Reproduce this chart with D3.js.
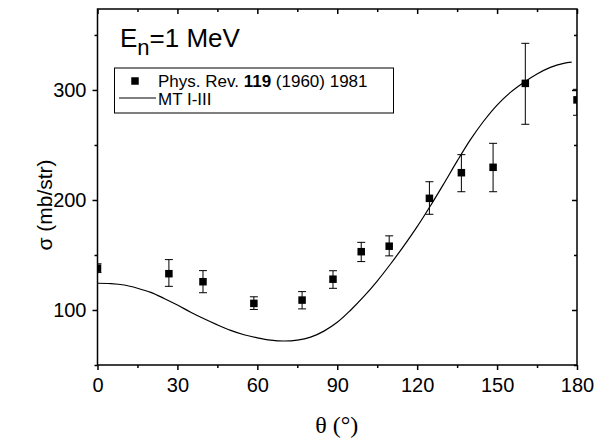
<!DOCTYPE html>
<html>
<head>
<meta charset="utf-8">
<script src="https://cdn.jsdelivr.net/npm/d3@7"></script>
<style>
  body { margin: 0; background: #fff; }
  svg { display: block; }
  .tick text { font-family: "Liberation Sans", Arial, sans-serif; }
</style>
</head>
<body>
<svg id="chart" width="600" height="442"></svg>
<script>
// measured points, Phys. Rev. 119 (1960) 1981
const angles = [0, 26.8, 39.6, 58.7, 76.8, 88.4, 99, 109.5, 124.6, 136.6, 148.5, 160.6, 180];
const sigma = [138, 133, 125.7, 106, 109, 128, 153, 158, 201.5, 224.8, 229.7, 306, 291];
const errHigh = [142, 145.8, 135.8, 112, 116.7, 135.7, 161.5, 167.4, 216.6, 241.2, 251.5, 342.4, 300.6];
const errLow = [134, 121.5, 115.7, 100.5, 101, 119.7, 144, 149.2, 187, 207.5, 207.5, 268.8, 277];

// MT I-III calculation
const curveAngles = [0, 5, 10, 15, 20, 25, 30, 35, 40, 45, 50, 55, 60, 65, 70, 75, 80, 85, 90, 95, 100, 105, 110, 115, 120, 125, 130, 135, 140, 145, 150, 155, 160, 165, 170, 175, 178];
const curveSigma = [124.3, 124, 122.7, 119.8, 116, 110.5, 104.5, 98, 92, 86.5, 81.5, 77.5, 74.7, 72.6, 71.8, 72.6, 75.3, 80.8, 88.8, 99.8, 112.3, 126.3, 141.8, 158.3, 175.8, 194.8, 214.8, 235.3, 254.8, 271.8, 286.3, 297.8, 306.8, 314.5, 320.5, 324.2, 325.3];

const xMajor = [0, 30, 60, 90, 120, 150, 180];
const xMinor = [15, 45, 75, 105, 135, 165];
const yMajor = [100, 200, 300];
const yMinor = [50, 150, 250, 350];

const svg = d3.select("#chart");
const pLeft = 97.5, pRight = 577, pTop = 9, pBottom = 365;

const x = d3.scaleLinear().domain([0, 180]).range([pLeft, pRight]);
const y = d3.scaleLinear().domain([50, 373.6]).range([pBottom, pTop]);

const fontSans = "'Liberation Sans', Arial, sans-serif";

// axes
function styleAxis(g) {
    g.selectAll("path, line").attr("stroke", "#000").attr("stroke-width", 1.5);
    g.selectAll("text").attr("font-size", 20).attr("fill", "#000");
}

svg.append("g")
    .attr("transform", `translate(0, ${pBottom})`)
    .call(d3.axisBottom(x).tickValues(xMajor).tickSize(5).tickPadding(8).tickFormat(d3.format("d")))
    .call(styleAxis);
svg.append("g")
    .attr("transform", `translate(0, ${pBottom})`)
    .call(d3.axisBottom(x).tickValues(xMinor).tickSize(3).tickFormat(""))
    .call(styleAxis);

svg.append("g")
    .attr("transform", `translate(${pLeft}, 0)`)
    .call(d3.axisLeft(y).tickValues(yMajor).tickSize(5).tickPadding(6))
    .call(styleAxis);
svg.append("g")
    .attr("transform", `translate(${pLeft}, 0)`)
    .call(d3.axisLeft(y).tickValues(yMinor).tickSize(3).tickFormat(""))
    .call(styleAxis);

// mirrored axes, ticks inside
svg.append("g")
    .attr("transform", `translate(0, ${pTop})`)
    .call(d3.axisBottom(x).tickValues(xMajor).tickSize(5).tickFormat(""))
    .call(styleAxis);
svg.append("g")
    .attr("transform", `translate(0, ${pTop})`)
    .call(d3.axisBottom(x).tickValues(xMinor).tickSize(3).tickFormat(""))
    .call(styleAxis);
svg.append("g")
    .attr("transform", `translate(${pRight}, 0)`)
    .call(d3.axisLeft(y).tickValues(yMajor).tickSize(5).tickFormat(""))
    .call(styleAxis);
svg.append("g")
    .attr("transform", `translate(${pRight}, 0)`)
    .call(d3.axisLeft(y).tickValues(yMinor).tickSize(3).tickFormat(""))
    .call(styleAxis);

svg.selectAll(".domain").remove();
svg.append("rect")
    .attr("x", pLeft).attr("y", pTop)
    .attr("width", pRight - pLeft).attr("height", pBottom - pTop)
    .attr("fill", "none").attr("stroke", "#000").attr("stroke-width", 1.5);

// clip
svg.append("clipPath").attr("id", "plot-clip")
    .append("rect")
    .attr("x", pLeft).attr("y", pTop)
    .attr("width", pRight - pLeft).attr("height", pBottom - pTop);

const plot = svg.append("g").attr("clip-path", "url(#plot-clip)");

const line = d3.line()
    .x((d, i) => x(curveAngles[i]))
    .y(d => y(d))
    .curve(d3.curveCatmullRom.alpha(0.5));

plot.append("path")
    .datum(curveSigma)
    .attr("fill", "none")
    .attr("stroke", "#000")
    .attr("stroke-width", 1.2)
    .attr("d", line);

const points = angles.map((a, i) => ({ a, s: sigma[i], hi: errHigh[i], lo: errLow[i] }));
const cap = 4;
const mk = 7.5;

const pts = plot.selectAll(".pt").data(points).enter().append("g").attr("class", "pt");
pts.append("line")
    .attr("x1", d => x(d.a)).attr("x2", d => x(d.a))
    .attr("y1", d => y(d.hi)).attr("y2", d => y(d.lo))
    .attr("stroke", "#000").attr("stroke-width", 1);
pts.append("line")
    .attr("x1", d => x(d.a) - cap).attr("x2", d => x(d.a) + cap)
    .attr("y1", d => y(d.hi)).attr("y2", d => y(d.hi))
    .attr("stroke", "#000").attr("stroke-width", 1);
pts.append("line")
    .attr("x1", d => x(d.a) - cap).attr("x2", d => x(d.a) + cap)
    .attr("y1", d => y(d.lo)).attr("y2", d => y(d.lo))
    .attr("stroke", "#000").attr("stroke-width", 1);
pts.append("rect")
    .attr("x", d => x(d.a) - mk / 2).attr("y", d => y(d.s) - mk / 2)
    .attr("width", mk).attr("height", mk)
    .attr("fill", "#000");

// title
const title = svg.append("text")
    .attr("x", 120).attr("y", 47)
    .attr("font-family", fontSans).attr("font-size", 26).attr("fill", "#000");
title.append("tspan").text("E");
title.append("tspan").attr("font-size", 22).attr("dy", 8).text("n");
title.append("tspan").attr("dy", -8).text("=1 MeV");

// legend
const legend = svg.append("g");
legend.append("rect")
    .attr("x", 114.5).attr("y", 68)
    .attr("width", 279).attr("height", 45)
    .attr("fill", "#fff").attr("stroke", "#000").attr("stroke-width", 1);
legend.append("rect")
    .attr("x", 135 - mk / 2).attr("y", 81 - mk / 2)
    .attr("width", mk).attr("height", mk).attr("fill", "#000");
legend.append("line")
    .attr("x1", 119).attr("x2", 156)
    .attr("y1", 98).attr("y2", 98)
    .attr("stroke", "#000").attr("stroke-width", 1);
const t1 = legend.append("text")
    .attr("x", 158).attr("y", 87)
    .attr("font-family", fontSans).attr("font-size", 17).attr("fill", "#000");
t1.append("tspan").text("Phys. Rev. ");
t1.append("tspan").attr("font-weight", "bold").text("119");
t1.append("tspan").text(" (1960) 1981");
legend.append("text")
    .attr("x", 158).attr("y", 105)
    .attr("font-family", fontSans).attr("font-size", 17).attr("fill", "#000")
    .text("MT I-III");

// axis titles
svg.append("text")
    .attr("transform", `translate(52, ${(pTop + pBottom) / 2 + 18}) rotate(-90)`)
    .attr("text-anchor", "middle")
    .attr("font-family", fontSans).attr("font-size", 21).attr("fill", "#000")
    .text("σ (mb/str)");

svg.append("text")
    .attr("x", (pLeft + pRight) / 2 - 0.5).attr("y", 433)
    .attr("text-anchor", "middle")
    .attr("font-family", "'Liberation Serif', 'Times New Roman', serif")
    .attr("font-size", 24).attr("fill", "#000")
    .text("θ (°)");
</script>
</body>
</html>
